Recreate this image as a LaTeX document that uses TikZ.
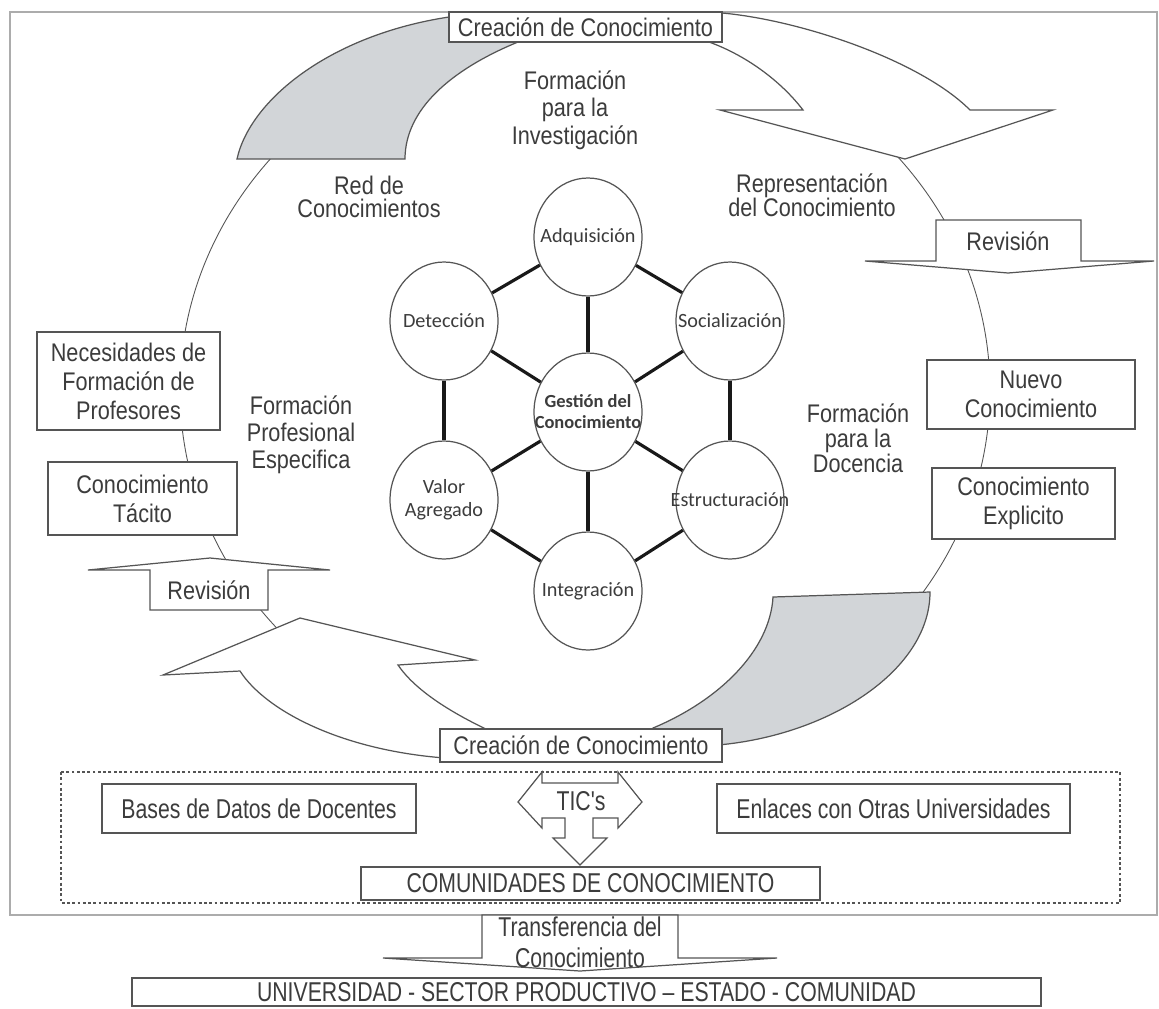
\documentclass[tikz,border=0pt]{standalone}
\usepackage{fontspec}
\setmainfont{Liberation Sans}[FakeStretch=0.85]
\newfontfamily\angosta{Liberation Sans}[FakeStretch=0.78]
\newfontfamily\calibri{Carlito}
\usetikzlibrary{shapes.geometric}

\definecolor{trazo}{HTML}{555555}
\definecolor{sombra}{HTML}{D2D5D8}
\definecolor{texto}{HTML}{3C3C3C}

\begin{document}
\begin{tikzpicture}[x=0.02cm, y=-0.02cm,
		caja/.style={draw=trazo, line width=0.8pt, fill=white, text=texto, align=center, inner sep=0pt, font=\fontsize{14.5}{16.5}\selectfont},
		cajabaja/.style={caja, font=\angosta\fontsize{15.5}{17.5}\selectfont},
		etiqueta/.style={text=texto, align=center, font=\fontsize{14.5}{15.3}\selectfont},
		circulo/.style={draw=trazo, line width=0.7pt, fill=white, ellipse, minimum width=2.16cm, minimum height=2.36cm, inner sep=0pt},
		rotulo/.style={text=texto, align=center, inner sep=0pt, font=\calibri\fontsize{11.5}{13}\selectfont},
		enlace/.style={line width=1.8pt, black!90},
		flecha/.style={draw=trazo, line width=0.7pt, fill=white, line join=miter}]
		
		\fill[white] (0,0) rectangle (1159,1008);
		\useasboundingbox (0,0) rectangle (1159,1008);
		
		% --- Marco general
		\draw[gray!65, line width=1.2pt] (10,12) rectangle (1157,915);
		
		% --- Ciclo del conocimiento (anillo fino)
		\draw[trazo, line width=0.5pt] (585,390) ellipse (405 and 367);
		
		% Tramos del anillo
		\draw[trazo, line width=0.7pt, fill=sombra] (237,159) .. controls (250,100) and (330,35) .. (449,17) -- (518,25) -- (518,42) .. controls (450,70) and (405,110) .. (405,159) -- cycle;
		\draw[flecha] (722,13) .. controls (800,20) and (920,60) .. (970,110) -- (1053,110) -- (905,159) -- (720,110) -- (803,110) .. controls (780,80) and (745,55) .. (709,42) -- (709,13) -- cycle;
		\draw[trazo, line width=0.7pt, fill=sombra] (773,597) -- (930,592) .. controls (930,670) and (830,735) .. (718,745) -- (653,740) -- (653,728) .. controls (720,700) and (770,650) .. (773,597) -- cycle;
		\draw[flecha] (445,758) .. controls (340,750) and (265,710) .. (240,671) -- (163,675) -- (300,618) -- (475,660) -- (398,665) .. controls (415,690) and (450,712) .. (488,730) -- (488,745) -- cycle;
		
		% Flechas de revision
		\draw[flecha] (936,220) -- (1081,220) -- (1081,261) -- (1154,261) -- (1008,273) -- (865,261) -- (936,261) -- cycle;
		\node[etiqueta] (revDer) at (1008,241) {Revisión};
		\draw[flecha] (150,610) -- (150,570) -- (88,570) -- (210,558) -- (330,570) -- (268,570) -- (268,610) -- cycle;
		\node[etiqueta] (revIzq) at (209,590) {Revisión};
		
		% Cajas sobre el anillo
		\node[caja, minimum width=5.46cm, minimum height=0.6cm] (creaArr) at (585.5,27) {Creación de Conocimiento};
		\node[caja, minimum width=5.64cm, minimum height=0.66cm] (creaAba) at (581,745.5) {Creación de Conocimiento};
		\node[caja, minimum width=3.66cm, minimum height=1.96cm] (necesidades) at (128.5,381) {Necesidades de\\Formación de\\Profesores};
		\node[caja, minimum width=3.78cm, minimum height=1.46cm] (tacito) at (142.5,498.5) {Conocimiento\\Tácito};
		\node[caja, minimum width=4.16cm, minimum height=1.38cm] (nuevo) at (1031,394.5) {Nuevo\\Conocimiento};
		\node[caja, minimum width=3.66cm, minimum height=1.42cm] (explicito) at (1023.5,503.5) {Conocimiento\\Explicito};
		
		% Etiquetas libres
		\node[etiqueta, font=\fontsize{14.5}{15.6}\selectfont] (formInv) at (575,110) {Formación\\para la\\Investigación};
		\node[etiqueta, font=\fontsize{14.5}{13.2}\selectfont] (red) at (369,197) {Red de\\Conocimientos};
		\node[etiqueta, font=\fontsize{14.5}{13.6}\selectfont] (repr) at (812,195) {Representación\\del Conocimiento};
		\node[etiqueta] (formProf) at (301,435) {Formación\\Profesional\\Especifica};
		\node[etiqueta, font=\fontsize{14.5}{14.2}\selectfont] (formDoc) at (858,438) {Formación\\para la\\Docencia};
		
		% --- Hexagono de gestion
		\node[circulo, label={[rotulo]center:Adquisición}] (adq) at (588,237) {};
		\node[circulo, label={[rotulo]center:Detección}] (det) at (444,321) {};
		\node[circulo, label={[rotulo]center:Socialización}] (soc) at (730,321) {};
		\node[circulo, label={[rotulo, font=\calibri\bfseries\fontsize{10.5}{12}\selectfont]center:Gestión del\\Conocimiento}] (gest) at (588,412) {};
		\node[circulo, label={[rotulo]center:Valor\\Agregado}] (val) at (444,500) {};
		\node[circulo, label={[rotulo]center:Estructuración}] (est) at (730,500) {};
		\node[circulo, label={[rotulo]center:Integración}] (integ) at (588,591) {};
		
		\foreach \a/\b in {adq/soc, soc/est, est/integ, integ/val, val/det, det/adq}
		\draw[enlace] (\a) -- (\b);
		\foreach \c in {adq, det, soc, val, est, integ}
		\draw[enlace] (gest) -- (\c);
		
		% --- Comunidades de conocimiento
		\draw[trazo, line width=0.6pt, dash pattern=on 1.6pt off 1.4pt] (61,772) rectangle (1120,903);
		\node[cajabaja, minimum width=6.28cm, minimum height=0.98cm] (bases) at (259,808.5) {Bases de Datos de Docentes};
		\node[cajabaja, minimum width=7.06cm, minimum height=0.98cm] (enlaces) at (893.5,808.5) {Enlaces con Otras Universidades};
		\draw[flecha] (518,802) -- (542,772) -- (542,783) -- (618,783) -- (618,772) -- (642,802) -- (618,828) -- (618,818) -- (593,818) -- (593,838) -- (607,838) -- (580,865) -- (553,838) -- (565,838) -- (565,818) -- (542,818) -- (542,828) -- cycle;
		\node[text=texto, font=\angosta\fontsize{15.5}{17.5}\selectfont] (tics) at (581,801) {TIC's};
		\node[cajabaja, minimum width=9.18cm, minimum height=0.66cm] (comunidades) at (590.5,883.5) {COMUNIDADES DE CONOCIMIENTO};
		
		% --- Transferencia
		\draw[flecha] (482,915) -- (678,915) -- (678,958) -- (777,958) -- (580,971) -- (383,958) -- (482,958) -- cycle;
		\node[text=texto, align=center, font=\angosta\fontsize{15.5}{17.5}\selectfont] (transf) at (580,942) {Transferencia del\\Conocimiento};
		\node[cajabaja, minimum width=18.18cm, minimum height=0.56cm] (universidad) at (586.5,992) {UNIVERSIDAD - SECTOR PRODUCTIVO – ESTADO - COMUNIDAD};
		
	\end{tikzpicture}
\end{document}
